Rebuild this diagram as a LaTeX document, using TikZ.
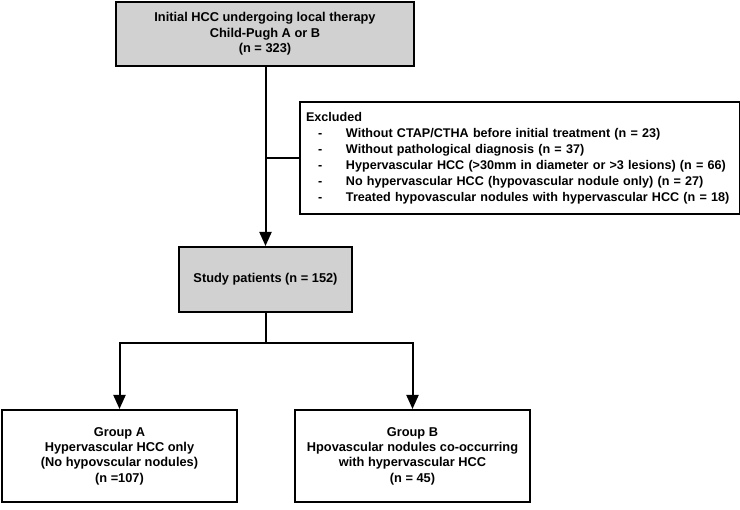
\documentclass[tikz,border=0pt]{standalone}
\usepackage{fontspec}
\setmainfont{Liberation Sans}
\usepackage{tikz}
\usetikzlibrary{arrows.meta}

\newcommand{\exline}[1]{\mbox{\hspace*{12pt}\makebox[28pt][l]{-}#1}}

\begin{document}
\begin{tikzpicture}[x=1pt,y=-1pt,
  flowbox/.style={draw,line width=2pt,inner sep=0pt,align=center,
    font=\bfseries\fontsize{12.8}{15.4}\selectfont},
  greybox/.style={flowbox,fill=black!18},
  link/.style={line width=2pt},
  arr/.style={link,-{Triangle[width=12pt,length=14pt]}}]
\useasboundingbox (0,0) rectangle (740,510);
\node[greybox,minimum width=298pt,minimum height=64pt] (init) at (265,34)
  {Initial HCC undergoing local therapy\\Child-Pugh A or B\\(n = 323)};
\node[flowbox,anchor=north west,align=left,text width=428pt,inner xsep=6pt,inner ysep=10pt,
  font=\bfseries\fontsize{12.6}{16}\selectfont] (excl) at (299,101)
  {Excluded\\
   \exline{Without CTAP/CTHA before initial treatment (n = 23)}\\
   \exline{Without pathological diagnosis (n = 37)}\\
   \exline{Hypervascular HCC (>30mm in diameter or >3 lesions) (n = 66)}\\
   \exline{No hypervascular HCC (hypovascular nodule only) (n = 27)}\\
   \exline{Treated hypovascular nodules with hypervascular HCC (n = 18)}};
\node[greybox,minimum width=173pt,minimum height=65pt] (study) at (265.5,279.5)
  {Study patients (n = 152)};
\node[flowbox,minimum width=235pt,minimum height=92pt] (grpA) at (119.5,456)
  {Group A\\Hypervascular HCC only\\(No hypovscular nodules)\\(n =107)};
\node[flowbox,minimum width=235pt,minimum height=92pt] (grpB) at (412.5,456)
  {Group B\\Hpovascular nodules co-occurring\\with hypervascular HCC\\(n = 45)};
\coordinate (fork) at (265.5,343);

\draw[arr] (init.south -| study.north) -- (study.north);
\draw[link] (study.north |- excl.west) -- (excl.west);
\draw[link] (study.south) -- (fork);
\draw[arr] (fork) -| (grpA.north);
\draw[arr] (fork) -| (grpB.north);
\end{tikzpicture}
\end{document}
